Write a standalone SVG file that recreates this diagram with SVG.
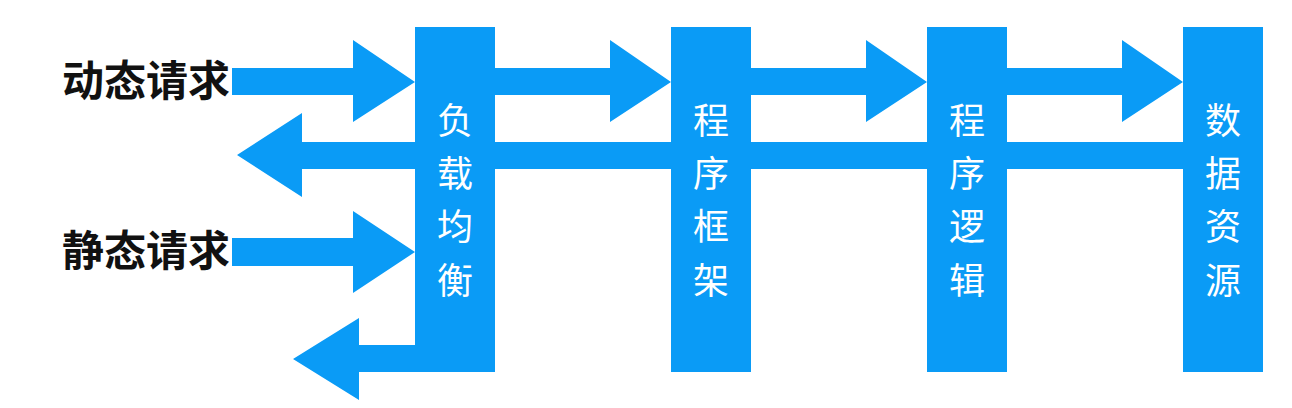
<svg xmlns="http://www.w3.org/2000/svg" width="1292" height="408" viewBox="0 0 1292 408">
  <style>
    .blue { fill: #0a9bf6; }
    .box { fill: #0a9bf6; }
    .lbl { font-family: "Noto Sans CJK SC", "Noto Sans", sans-serif; font-size: 36px; fill: #ffffff; text-anchor: middle; }
    .req { font-family: "Noto Sans CJK SC", "Noto Sans", sans-serif; font-size: 42px; font-weight: bold; fill: #111111; }
  </style>
  <rect width="1292" height="408" fill="#ffffff"/>
  <g id="connectors">
    <polygon class="blue" points="232,68 353,68 353,40 415,82 353,122 353,95 232,95"/>
    <polygon class="blue" points="495,68 610,68 610,40 671,82 610,122 610,95 495,95"/>
    <polygon class="blue" points="751,68 866,68 866,40 927,82 866,122 866,95 751,95"/>
    <polygon class="blue" points="1007,68 1122,68 1122,40 1183,82 1122,122 1122,95 1007,95"/>
    <polygon class="blue" points="1183,142 302,142 302,113 237,155 302,197 302,169 1183,169"/>
    <polygon class="blue" points="232,238 353,238 353,211 415,252 353,293 353,266 232,266"/>
    <polygon class="blue" points="415,345 359,345 359,318 293,359 359,400 359,372 415,372"/>
  </g>
  <g id="dynamic-request">
    <text class="req" x="62" y="96">动态请求</text>
  </g>
  <g id="static-request">
    <text class="req" x="62" y="266">静态请求</text>
  </g>
  <g id="load-balancer">
    <rect class="box" x="415" y="27" width="80" height="345"/>
    <text class="lbl" x="455" y="134">负</text>
    <text class="lbl" x="455" y="187">载</text>
    <text class="lbl" x="455" y="240">均</text>
    <text class="lbl" x="455" y="294">衡</text>
  </g>
  <g id="framework">
    <rect class="box" x="671" y="27" width="80" height="345"/>
    <text class="lbl" x="711" y="134">程</text>
    <text class="lbl" x="711" y="187">序</text>
    <text class="lbl" x="711" y="240">框</text>
    <text class="lbl" x="711" y="294">架</text>
  </g>
  <g id="logic">
    <rect class="box" x="927" y="27" width="80" height="345"/>
    <text class="lbl" x="967" y="134">程</text>
    <text class="lbl" x="967" y="187">序</text>
    <text class="lbl" x="967" y="240">逻</text>
    <text class="lbl" x="967" y="294">辑</text>
  </g>
  <g id="data-source">
    <rect class="box" x="1183" y="27" width="80" height="345"/>
    <text class="lbl" x="1223" y="134">数</text>
    <text class="lbl" x="1223" y="187">据</text>
    <text class="lbl" x="1223" y="240">资</text>
    <text class="lbl" x="1223" y="294">源</text>
  </g>
</svg>
